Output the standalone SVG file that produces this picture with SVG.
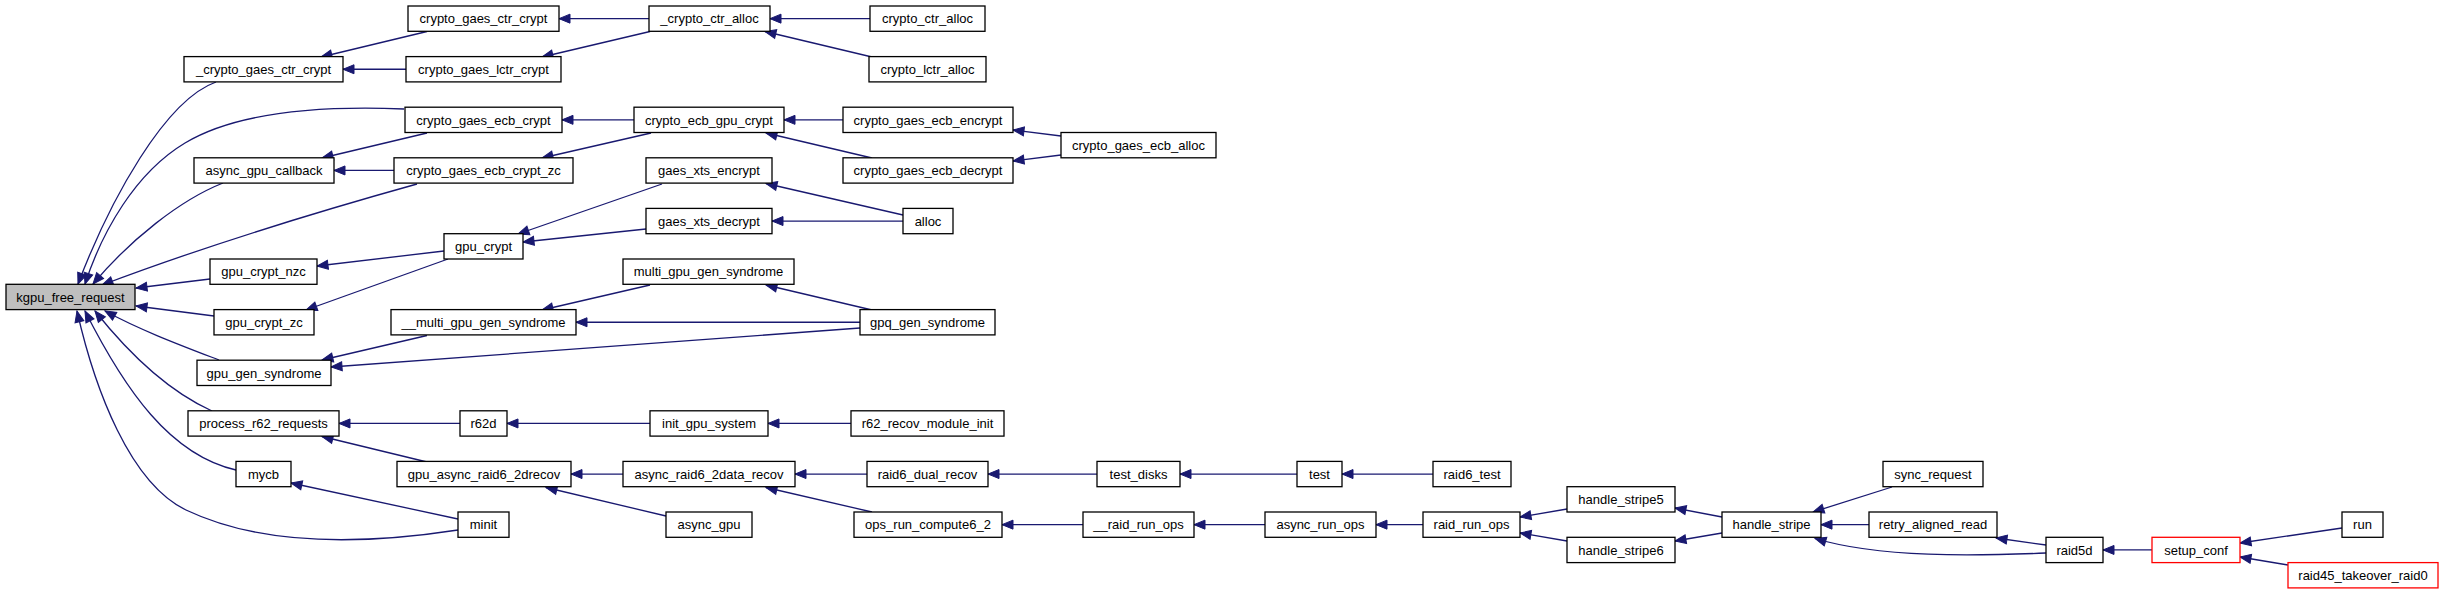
<svg xmlns="http://www.w3.org/2000/svg" width="2443" height="595" viewBox="0 0 2443 595">
<style>
.n rect{fill:#fff;stroke:#000;stroke-width:1.3}
.n.root rect{fill:#bfbfbf}
.n.red rect{stroke:#ff0000}
.n text{font-family:"Liberation Sans",Arial,sans-serif;font-size:13px;text-anchor:middle;fill:#000}
.e path{fill:none;stroke:#191970;stroke-width:1.3;marker-end:url(#ah)}
</style>
<defs>
<marker id="ah" markerUnits="userSpaceOnUse" markerWidth="12" markerHeight="10" refX="11" refY="5" orient="auto" overflow="visible">
<path d="M0,0.5 L11,5 L0,9.5 z" fill="#191970" stroke="#191970" stroke-width="1"/>
</marker>
</defs>
<rect width="2443" height="595" fill="#fff"/>
<g id="edges" class="e">
<path d="M216,82 C165,100 110,200 78,284"/>
<path d="M404,109 C330,106 240,110 185,143 C135,173 102,232 85,284"/>
<path d="M223,183 C180,200 130,240 93,284"/>
<path d="M417,184 C320,211 200,248 102,285"/>
<path d="M210,279 L136,288"/>
<path d="M214,316 L136,306"/>
<path d="M219,360 C180,345 140,330 105,311"/>
<path d="M212,411 C170,392 130,355 95,311"/>
<path d="M236,470 C170,455 125,390 85,311"/>
<path d="M458,530 C380,542 270,550 186,510 C130,483 95,390 77,311"/>
<path d="M427,31.5 L321,57"/>
<path d="M406,69.25 L343,69.25"/>
<path d="M649,18.65 L559,18.65"/>
<path d="M650,31.5 L542,57"/>
<path d="M870,18.65 L770,18.65"/>
<path d="M872,57 L765,31.5"/>
<path d="M427,133 L322,158"/>
<path d="M394,170.45 L334,170.45"/>
<path d="M634,119.85 L562,119.85"/>
<path d="M651,133 L542,158"/>
<path d="M843,119.85 L784,119.85"/>
<path d="M872,158 L766,133"/>
<path d="M1061,136 L1013,130"/>
<path d="M1061,155 L1013,161"/>
<path d="M444,251 L317,266"/>
<path d="M448,259 L306,310"/>
<path d="M662,184 L518,234"/>
<path d="M646,229 L523,242"/>
<path d="M903,215 L766,183.5"/>
<path d="M903,221.05 L772,221.05"/>
<path d="M650,285 L542,310"/>
<path d="M872,310 L766,285"/>
<path d="M860,322.25 L576,322.25"/>
<path d="M427,335.5 L322,360"/>
<path d="M860,328 L331,367"/>
<path d="M460,423.45 L339,423.45"/>
<path d="M427,462 L322,436.5"/>
<path d="M650,423.45 L507,423.45"/>
<path d="M851,423.45 L768,423.45"/>
<path d="M458,519 L291,483"/>
<path d="M623,474.05 L571,474.05"/>
<path d="M666,516 L546,487.5"/>
<path d="M867,474.05 L795,474.05"/>
<path d="M872,512 L766,487.5"/>
<path d="M1097,474.05 L988,474.05"/>
<path d="M1297,474.05 L1180,474.05"/>
<path d="M1433,474.05 L1342,474.05"/>
<path d="M1083,524.65 L1002,524.65"/>
<path d="M1265,524.65 L1194,524.65"/>
<path d="M1423,524.65 L1376,524.65"/>
<path d="M1567,509 L1520,517"/>
<path d="M1567,541 L1520,533"/>
<path d="M1722,517 L1675,508"/>
<path d="M1722,533 L1675,541"/>
<path d="M1892,487 L1813,512"/>
<path d="M1869,524.65 L1821,524.65"/>
<path d="M2046,553 C1975,556 1880,558 1815,538.5"/>
<path d="M2046,545 L1996,538"/>
<path d="M2152,549.95 L2103,549.95"/>
<path d="M2342,528 L2240,543"/>
<path d="M2288,565 L2240,557"/>
</g>
<g id="kgpu_free_request" class="n root"><rect x="6" y="284.3" width="129" height="25.3"/><text x="70.5" y="301.6">kgpu_free_request</text></g>
<g id="_crypto_gaes_ctr_crypt" class="n"><rect x="184" y="56.6" width="159" height="25.3"/><text x="263.5" y="73.9">_crypto_gaes_ctr_crypt</text></g>
<g id="crypto_gaes_ctr_crypt" class="n"><rect x="408" y="6" width="151" height="25.3"/><text x="483.5" y="23.3">crypto_gaes_ctr_crypt</text></g>
<g id="crypto_gaes_lctr_crypt" class="n"><rect x="406" y="56.6" width="155" height="25.3"/><text x="483.5" y="73.9">crypto_gaes_lctr_crypt</text></g>
<g id="crypto_gaes_ecb_crypt" class="n"><rect x="405" y="107.2" width="157" height="25.3"/><text x="483.5" y="124.5">crypto_gaes_ecb_crypt</text></g>
<g id="async_gpu_callback" class="n"><rect x="194" y="157.8" width="140" height="25.3"/><text x="264" y="175.1">async_gpu_callback</text></g>
<g id="crypto_gaes_ecb_crypt_zc" class="n"><rect x="394" y="157.8" width="179" height="25.3"/><text x="483.5" y="175.1">crypto_gaes_ecb_crypt_zc</text></g>
<g id="gpu_crypt" class="n"><rect x="444" y="233.7" width="79" height="25.3"/><text x="483.5" y="251">gpu_crypt</text></g>
<g id="gpu_crypt_nzc" class="n"><rect x="210" y="259" width="107" height="25.3"/><text x="263.5" y="276.3">gpu_crypt_nzc</text></g>
<g id="gpu_crypt_zc" class="n"><rect x="214" y="309.6" width="100" height="25.3"/><text x="264" y="326.9">gpu_crypt_zc</text></g>
<g id="__multi_gpu_gen_syndrome" class="n"><rect x="391" y="309.6" width="185" height="25.3"/><text x="483.5" y="326.9">__multi_gpu_gen_syndrome</text></g>
<g id="gpu_gen_syndrome" class="n"><rect x="197" y="360.2" width="134" height="25.3"/><text x="264" y="377.5">gpu_gen_syndrome</text></g>
<g id="process_r62_requests" class="n"><rect x="188" y="410.8" width="151" height="25.3"/><text x="263.5" y="428.1">process_r62_requests</text></g>
<g id="r62d" class="n"><rect x="460" y="410.8" width="47" height="25.3"/><text x="483.5" y="428.1">r62d</text></g>
<g id="mycb" class="n"><rect x="236" y="461.4" width="55" height="25.3"/><text x="263.5" y="478.7">mycb</text></g>
<g id="gpu_async_raid6_2drecov" class="n"><rect x="397" y="461.4" width="174" height="25.3"/><text x="484" y="478.7">gpu_async_raid6_2drecov</text></g>
<g id="minit" class="n"><rect x="458" y="512" width="51" height="25.3"/><text x="483.5" y="529.3">minit</text></g>
<g id="_crypto_ctr_alloc" class="n"><rect x="649" y="6" width="121" height="25.3"/><text x="709.5" y="23.3">_crypto_ctr_alloc</text></g>
<g id="crypto_ctr_alloc" class="n"><rect x="870" y="6" width="115" height="25.3"/><text x="927.5" y="23.3">crypto_ctr_alloc</text></g>
<g id="crypto_lctr_alloc" class="n"><rect x="869" y="56.6" width="117" height="25.3"/><text x="927.5" y="73.9">crypto_lctr_alloc</text></g>
<g id="crypto_ecb_gpu_crypt" class="n"><rect x="634" y="107.2" width="150" height="25.3"/><text x="709" y="124.5">crypto_ecb_gpu_crypt</text></g>
<g id="crypto_gaes_ecb_encrypt" class="n"><rect x="843" y="107.2" width="170" height="25.3"/><text x="928" y="124.5">crypto_gaes_ecb_encrypt</text></g>
<g id="crypto_gaes_ecb_alloc" class="n"><rect x="1061" y="132.5" width="155" height="25.3"/><text x="1138.5" y="149.8">crypto_gaes_ecb_alloc</text></g>
<g id="crypto_gaes_ecb_decrypt" class="n"><rect x="843" y="157.8" width="170" height="25.3"/><text x="928" y="175.1">crypto_gaes_ecb_decrypt</text></g>
<g id="gaes_xts_encrypt" class="n"><rect x="646" y="157.8" width="126" height="25.3"/><text x="709" y="175.1">gaes_xts_encrypt</text></g>
<g id="gaes_xts_decrypt" class="n"><rect x="646" y="208.4" width="126" height="25.3"/><text x="709" y="225.7">gaes_xts_decrypt</text></g>
<g id="alloc" class="n"><rect x="903" y="208.4" width="50" height="25.3"/><text x="928" y="225.7">alloc</text></g>
<g id="multi_gpu_gen_syndrome" class="n"><rect x="623" y="259" width="171" height="25.3"/><text x="708.5" y="276.3">multi_gpu_gen_syndrome</text></g>
<g id="gpq_gen_syndrome" class="n"><rect x="860" y="309.6" width="135" height="25.3"/><text x="927.5" y="326.9">gpq_gen_syndrome</text></g>
<g id="init_gpu_system" class="n"><rect x="650" y="410.8" width="118" height="25.3"/><text x="709" y="428.1">init_gpu_system</text></g>
<g id="r62_recov_module_init" class="n"><rect x="851" y="410.8" width="153" height="25.3"/><text x="927.5" y="428.1">r62_recov_module_init</text></g>
<g id="async_raid6_2data_recov" class="n"><rect x="623" y="461.4" width="172" height="25.3"/><text x="709" y="478.7">async_raid6_2data_recov</text></g>
<g id="raid6_dual_recov" class="n"><rect x="867" y="461.4" width="121" height="25.3"/><text x="927.5" y="478.7">raid6_dual_recov</text></g>
<g id="test_disks" class="n"><rect x="1097" y="461.4" width="83" height="25.3"/><text x="1138.5" y="478.7">test_disks</text></g>
<g id="async_gpu" class="n"><rect x="666" y="512" width="86" height="25.3"/><text x="709" y="529.3">async_gpu</text></g>
<g id="ops_run_compute6_2" class="n"><rect x="854" y="512" width="148" height="25.3"/><text x="928" y="529.3">ops_run_compute6_2</text></g>
<g id="__raid_run_ops" class="n"><rect x="1083" y="512" width="111" height="25.3"/><text x="1138.5" y="529.3">__raid_run_ops</text></g>
<g id="test" class="n"><rect x="1297" y="461.4" width="45" height="25.3"/><text x="1319.5" y="478.7">test</text></g>
<g id="raid6_test" class="n"><rect x="1433" y="461.4" width="78" height="25.3"/><text x="1472" y="478.7">raid6_test</text></g>
<g id="async_run_ops" class="n"><rect x="1265" y="512" width="111" height="25.3"/><text x="1320.5" y="529.3">async_run_ops</text></g>
<g id="raid_run_ops" class="n"><rect x="1423" y="512" width="97" height="25.3"/><text x="1471.5" y="529.3">raid_run_ops</text></g>
<g id="handle_stripe5" class="n"><rect x="1567" y="486.7" width="108" height="25.3"/><text x="1621" y="504">handle_stripe5</text></g>
<g id="handle_stripe6" class="n"><rect x="1567" y="537.3" width="108" height="25.3"/><text x="1621" y="554.6">handle_stripe6</text></g>
<g id="handle_stripe" class="n"><rect x="1722" y="512" width="99" height="25.3"/><text x="1771.5" y="529.3">handle_stripe</text></g>
<g id="sync_request" class="n"><rect x="1883" y="461.4" width="100" height="25.3"/><text x="1933" y="478.7">sync_request</text></g>
<g id="retry_aligned_read" class="n"><rect x="1869" y="512" width="128" height="25.3"/><text x="1933" y="529.3">retry_aligned_read</text></g>
<g id="raid5d" class="n"><rect x="2046" y="537.3" width="57" height="25.3"/><text x="2074.5" y="554.6">raid5d</text></g>
<g id="setup_conf" class="n red"><rect x="2152" y="537.3" width="88" height="25.3"/><text x="2196" y="554.6">setup_conf</text></g>
<g id="run" class="n"><rect x="2342" y="512" width="41" height="25.3"/><text x="2362.5" y="529.3">run</text></g>
<g id="raid45_takeover_raid0" class="n red"><rect x="2288" y="562.6" width="150" height="25.3"/><text x="2363" y="579.9">raid45_takeover_raid0</text></g>
</svg>
